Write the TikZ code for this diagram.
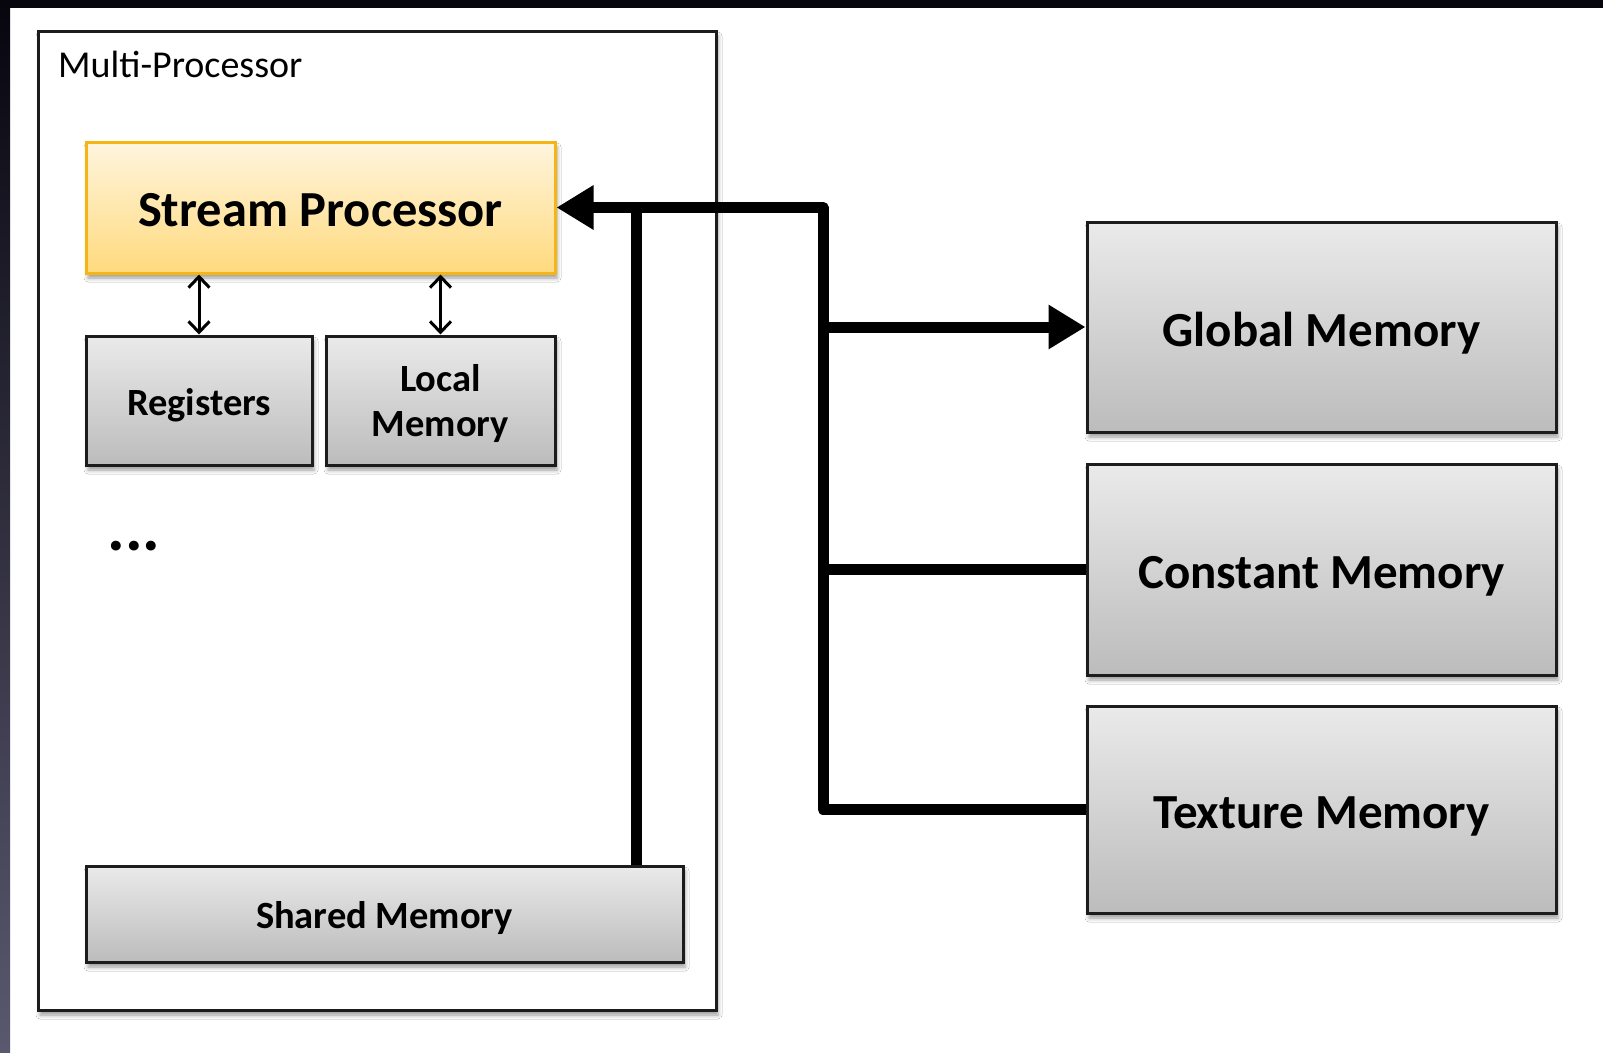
\documentclass[tikz,border=0pt]{standalone}
\usepackage{fontspec}
\setmainfont{Carlito}
\usetikzlibrary{arrows.meta,shadows.blur}

\definecolor{memtop}{HTML}{EAEAEA}
\definecolor{membot}{HTML}{BCBCBC}
\definecolor{sptop}{HTML}{FFF5DE}
\definecolor{spbot}{HTML}{FFDA7E}
\definecolor{spedge}{HTML}{F5B514}
\definecolor{edge}{HTML}{1C1C1C}
\definecolor{banddark}{HTML}{07060F}
\definecolor{bandlight}{HTML}{5A586E}

\tikzset{
  x=1pt, y=-1pt,
  boxshadow/.style={blur shadow={shadow xshift=2pt, shadow yshift=-5pt,
      shadow blur radius=4pt, shadow opacity=40}},
  membox/.style={draw=edge, line width=3pt, top color=memtop, bottom color=membot,
      boxshadow, inner sep=0pt, align=center, text=black},
  % fixed text height/depth so every label sits on the same baseline
  bigtext/.style={font=\bfseries\fontsize{49}{56}\selectfont,
      text height=38pt, text depth=0pt},
  smalltext/.style={font=\bfseries\fontsize{38.5}{45}\selectfont,
      text height=29pt, text depth=0pt},
  spbox/.style={draw=spedge, line width=3pt, top color=sptop, bottom color=spbot,
      boxshadow, inner sep=0pt, align=center, text=black},
  bus/.style={line width=11pt, line join=round},
  bushead/.style={-{Triangle[length=37pt,width=42pt]}},
  link/.style={line width=3pt,
      {Straight Barb[length=11pt,width=21pt]}-{Straight Barb[length=11pt,width=21pt]}}
}

\begin{document}
\begin{tikzpicture}
  % page frame and dark edges
  \useasboundingbox (0,0) rectangle (1603,1052);
  \fill[white] (0,0) rectangle (1603,1052);
  \fill[banddark] (0,0) rectangle (1603,8);
  \shade[top color=banddark, bottom color=bandlight] (0,0) rectangle (10,1052);

  % multi-processor container
  \node[draw=edge, line width=3pt, fill=white, boxshadow, inner sep=0pt,
        minimum width=678pt, minimum height=979pt] (mp) at (377,520.5) {};
  \node[anchor=west, inner sep=0pt, font=\fontsize{38}{44}\selectfont] (mplabel)
        at (58,64) {Multi-Processor};

  % inside the multi-processor
  \node[spbox, bigtext, font=\bfseries\fontsize{50.5}{56}\selectfont,
        minimum width=469pt, minimum height=131pt] (sp)
        at (320.5,207.5) {Stream Processor};
  \node[membox, smalltext, minimum width=226pt, minimum height=129pt] (reg)
        at (199,400.5) {Registers};
  \node[membox, smalltext, text height=72pt,
        minimum width=229pt, minimum height=129pt] (lm)
        at (440.5,400.5) {Local\\Memory};
  \node[inner sep=0pt, font=\bfseries\fontsize{66}{66}\selectfont] (dots)
        at (134,546) {...};
  \node[membox, smalltext, minimum width=597pt, minimum height=96pt] (sm)
        at (384.5,914) {Shared Memory};

  \draw[link] (sp.south -| reg.north) -- (reg.north);
  \draw[link] (sp.south -| lm.north) -- (lm.north);

  % device memories
  \node[membox, bigtext, minimum width=469pt, minimum height=210pt] (gm)
        at (1321.5,327) {Global Memory};
  \node[membox, bigtext, minimum width=469pt, minimum height=211pt] (cm)
        at (1321.5,569.5) {Constant Memory};
  \node[membox, bigtext, minimum width=469pt, minimum height=207pt] (tm)
        at (1321.5,809.5) {Texture Memory};

  % bus
  \coordinate (jtop) at (823,207.5);
  \coordinate (tap) at (636,207.5);
  \draw[bus, bushead] (tm.west) -- (tm.west -| jtop) -- (jtop) -- (sp.east);
  \draw[bus] (cm.west -| jtop) -- (cm.west);
  \draw[bus, bushead] (gm.west -| jtop) -- (gm.west);
  \draw[bus] (tap |- sm.north) -- (tap);
\end{tikzpicture}
\end{document}
